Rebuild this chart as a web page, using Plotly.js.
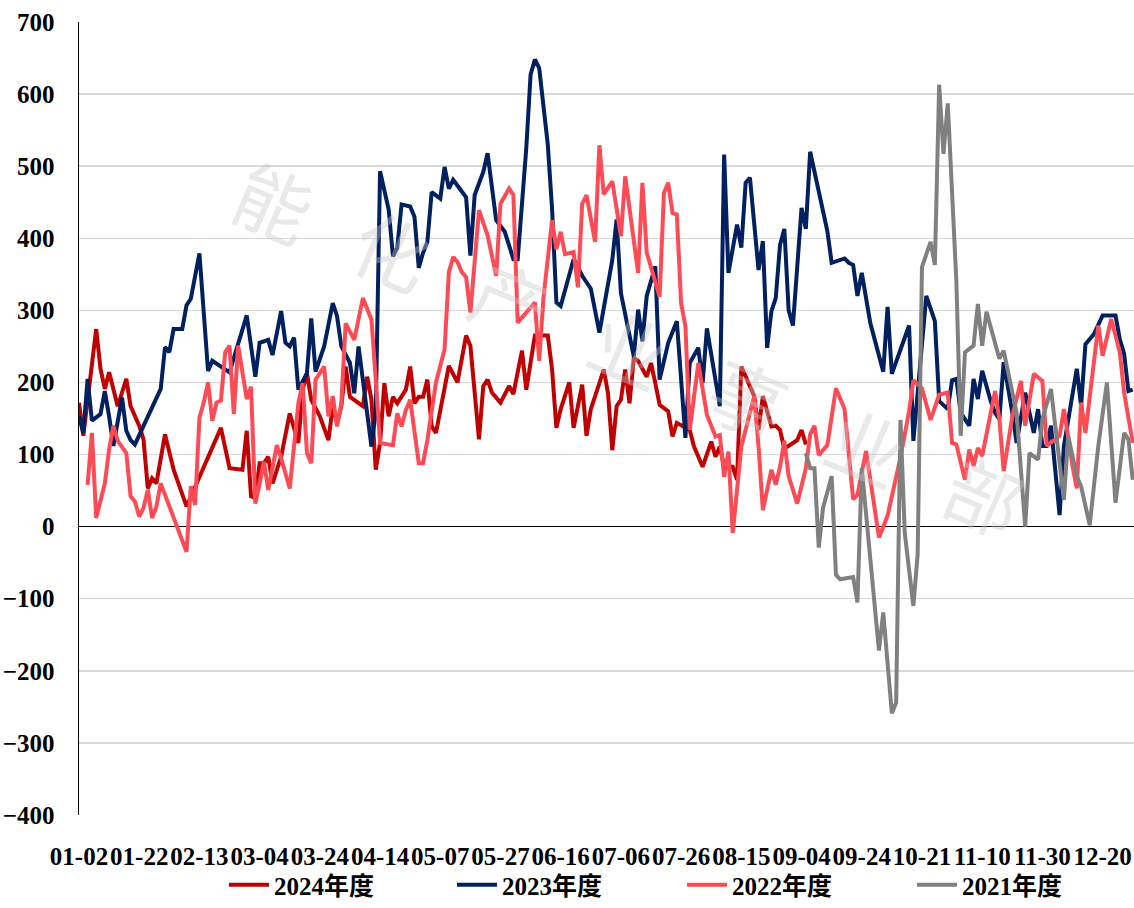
<!DOCTYPE html>
<html>
<head>
<meta charset="utf-8">
<script src="https://cdn.plot.ly/plotly-3.0.1.min.js"></script>
<style>
    html, body { margin: 0; padding: 0; background: #fff; }
    #chart { width: 1134px; height: 908px; }
</style>
</head>
<body>
<div id="chart"></div>
<script>
// X axis: one slot per trading day, a label every 14 days.
const tickLabels = [
    "01-02", "01-22", "02-13", "03-04", "03-24", "04-14", "05-07", "05-27", "06-16",
    "07-06", "07-26", "08-15", "09-04", "09-24", "10-21", "11-10", "11-30", "12-20"
];
const tickStep = 14;
const dayCount = 246;

// Series values by day slot (null = not read, line is joined across it).
const y2024 = [
    172, 126, null, null, 274, 219, 191, 214, null, 167, null, 205, 167, null,
    140, 121, 53, 67, 60, null, 128, null, 79, null, null, 28, null, null,
    null, null, null, null, null, 137, null, 81, null, null, 79, 133, 42, 40,
    88, 88, 97, 60, null, 97, null, 157, null, 116, 190, 213, 176, null,
    153, null, 120, 167, 144, 167, 222, 180, null, null, 167, 208, 176, 79,
    116, 199, 153, 180, 171, null, 190, 222, 171, 180, 180, 204, 139, 130,
    null, 190, 223, null, 200, null, 265, 251, null, 121, 195, 204, 186, null,
    172, null, 195, 184, null, 244, 190, null, 265, null, null, 265, 218, 137,
    163, null, 200, 137, null, 197, 126, 163, null, 199, 218, 185, 106, 167,
    176, 218, 171, 234, 230, null, 208, 227, 199, 169, null, 160, 125, 144,
    null, null, 134, 111, null, 83, null, 118, 97, 111, 83, null, 83, 65,
    222, null, null, 181, 134, 181, null, 139, 140, 134, 108, null, null, 120,
    134, 114
];

const y2023 = [
    153, 130, 205, 147, null, 156, 188, 153, 112, null, 179, 133, 120, 114,
    null, null, null, null, null, 191, 249, 242, 274, null, 274, 307, 316, null,
    379, null, 216, 230, null, null, null, 214, null, null, null, 293, null, 208,
    255, null, 259, 238, null, 299, 255, 250, 262, 190, null, 213, 289, 215,
    null, 250, 278, 310, 292, 250, null, 227, 185, 250, null, 153, 111, 160,
    493, null, 440, 375, 387, 447, null, 444, 430, 359, 380, 395, 464, null,
    455, 499, 469, 481, null, null, 457, 376, 460, null, 492, 518, null, 425,
    null, 409, 390, 371, 371, null, 525, 627, 648, 636, null, 530, 440, 311,
    306, null, null, 371, null, 348, null, 330, null, 269, null, null, 370, 426,
    324, null, null, 236, 301, 257, 320, null, 361, 204, null, 255, null, 285,
    null, 123, 227, null, 248, 199, 275, null, null, 167, 516, 352, null, 419,
    387, 477, 484, null, 356, 396, 248, 299, 317, 391, 413, 300, 279, null,
    442, 413, 520, null, null, null, 410, 366, null, null, 372, 366, 363, 320,
    352, null, 282, null, null, 215, 305, 212, null, null, null, 279, 119, null,
    null, 320, null, 285, 174, null, 163, 203, 205, 158, null, 140, 205, 177,
    216, null, 174, 158, 149, 228, null, 158, 116, null, 186, null, 130, 163,
    112, 112, 140, null, 16, 112, null, null, 219, 167, 253, null, 267, null,
    293, null, null, 293, 260, 240, 188, 190
];

const y2022 = [
    null, null, 58, 130, 12, null, 60, 107, 140, 119, null, 102, 42, 35,
    14, 26, 51, 12, 28, 60, null, null, null, null, null, -35, 56, 30,
    151, 172, 200, 147, 172, 175, 242, 251, 156, 251, null, 177, 194, 32,
    60, 90, 51, null, 113, 95, null, 53, null, 171, 199, 102, 88, 204,
    null, 222, 153, 181, 139, 171, 282, null, 259, null, 317, null, 287, 204,
    116, null, null, 113, 157, 139, 162, 176, null, 88, 88, 120, 160, 200,
    null, 246, 353, 374, 367, 353, 346, 297, null, 439, null, 404, null, 348,
    448, null, 469, 460, 283, null, null, null, 311, 230, 318, null, 425, 385,
    409, 378, null, 381, 332, 448, 460, null, 395, 529, 461, null, 479, 437,
    403, 486, null, null, 352, 477, 380, null, null, 319, 463, 477, 435, 433,
    310, 278, 134, null, 227, null, 155, null, 125, 127, 69, 104, -9, 46,
    111, null, null, 181, 111, 23, null, 79, 58, 83, 119, 70, null, 32,
    null, 81, 128, 140, 99, null, 113, null, 192, null, 163, null, 38, 44,
    null, 105, 64, null, -15, null, 15, 41, null, 96, null, 160, 203, null,
    192, null, 148, null, 183, null, 186, 116, 114, null, 65, 107, 84, 109,
    98, null, null, 188, 149, 77, null, 153, null, 202, 140, null, 212, null,
    202, 112, null, null, 126, 163, null, 84, 53, 172, 130, null, null, 279,
    237, null, 288, null, 242, 186, null, 116
];

// 2021 starts at slot 169 (09-06).
const start2021 = 169;
const y2021 = [
    102, 81, 81, -29, 26, null, 70, -67, -73, null, null, -70, -105,
    81, null, null, null, -172, -119, null, -259, -244, 148, -9, null, -110, -38,
    360, null, 395, 363, 613, 517, 587, null, 340, 126, 242, null, 251, 309,
    251, 298, null, null, 233, 244, null, null, 158, null, 0, 102, null, 93,
    149, null, 191, null, null, 37, 126, null, 70, 56, null, 2, null, 112,
    null, 200, null, 33, null, 130, 121, 65
];

const seriesNames = ["2024年度", "2023年度", "2022年度", "2021年度"];
const seriesColors = ["#C00000", "#002060", "#FF4B55", "#808080"];
const seriesValues = [y2024, y2023, y2022, y2021];
const seriesStart = [0, 0, 0, start2021];

// Watermark characters.
const watermark = ["能", "化", "产", "业", "事", "业", "部"];

const boldFont = {
    family: '"Times New Roman", "Liberation Serif", "Noto Sans CJK SC", serif',
    size: 25,
    color: "#000000",
    weight: "bold"
};

const legendIds = ["legend", "legend2", "legend3", "legend4"];
const legendX = [0.1374, 0.3536, 0.5716, 0.7896];

function buildTraces() {
    return seriesValues.map((values, k) => {
        return {
            type: "scatter",
            mode: "lines",
            name: seriesNames[k],
            legend: legendIds[k],
            x: values.map((_, i) => i + seriesStart[k]),
            y: values,
            connectgaps: true,
            line: {
                color: seriesColors[k],
                width: 4
            },
            hoverinfo: "skip"
        };
    });
}

function buildLegend(k) {
    return {
        orientation: "h",
        x: legendX[k],
        xanchor: "left",
        y: -0.088,
        yanchor: "middle",
        itemwidth: 40,
        font: boldFont,
        bgcolor: "rgba(0,0,0,0)"
    };
}

function buildWatermark() {
    // spread along a tilted line across the plot
    return watermark.map((ch, i) => {
        return {
            text: ch,
            xref: "paper",
            yref: "paper",
            x: 0.1858 + i * 0.1122,
            y: 0.7758 - i * 0.0619,
            xanchor: "center",
            yanchor: "middle",
            showarrow: false,
            textangle: 23,
            font: {
                family: '"Noto Sans CJK SC", sans-serif',
                size: 76,
                color: "rgba(200,200,200,0.4)"
            }
        };
    });
}

function renderChart() {
    const layout = {
        width: 1134,
        height: 908,
        paper_bgcolor: "#ffffff",
        plot_bgcolor: "#ffffff",
        margin: { l: 79, r: 0, t: 22, b: 92 },
        showlegend: true,
        hovermode: false,

        xaxis: {
            range: [0, dayCount - 0.7],
            tickmode: "array",
            tickvals: tickLabels.map((_, i) => i * tickStep),
            ticktext: tickLabels,
            tickangle: 0,
            ticks: "",
            ticklabelstandoff: 24,
            showgrid: false,
            zeroline: false,
            showline: false,
            tickfont: boldFont
        },

        yaxis: {
            range: [-400, 700],
            dtick: 100,
            ticks: "",
            ticklabelstandoff: 18,
            showgrid: true,
            gridcolor: "#D9D9D9",
            gridwidth: 1.5,
            zeroline: true,
            zerolinecolor: "#000000",
            zerolinewidth: 1.5,
            showline: true,
            linecolor: "#000000",
            linewidth: 1.5,
            tickfont: boldFont
        },

        legend: buildLegend(0),
        legend2: buildLegend(1),
        legend3: buildLegend(2),
        legend4: buildLegend(3),

        annotations: buildWatermark()
    };

    Plotly.newPlot("chart", buildTraces(), layout, {
        displayModeBar: false,
        staticPlot: true
    });
}

document.addEventListener("DOMContentLoaded", () => {
    renderChart();
});
</script>
</body>
</html>
